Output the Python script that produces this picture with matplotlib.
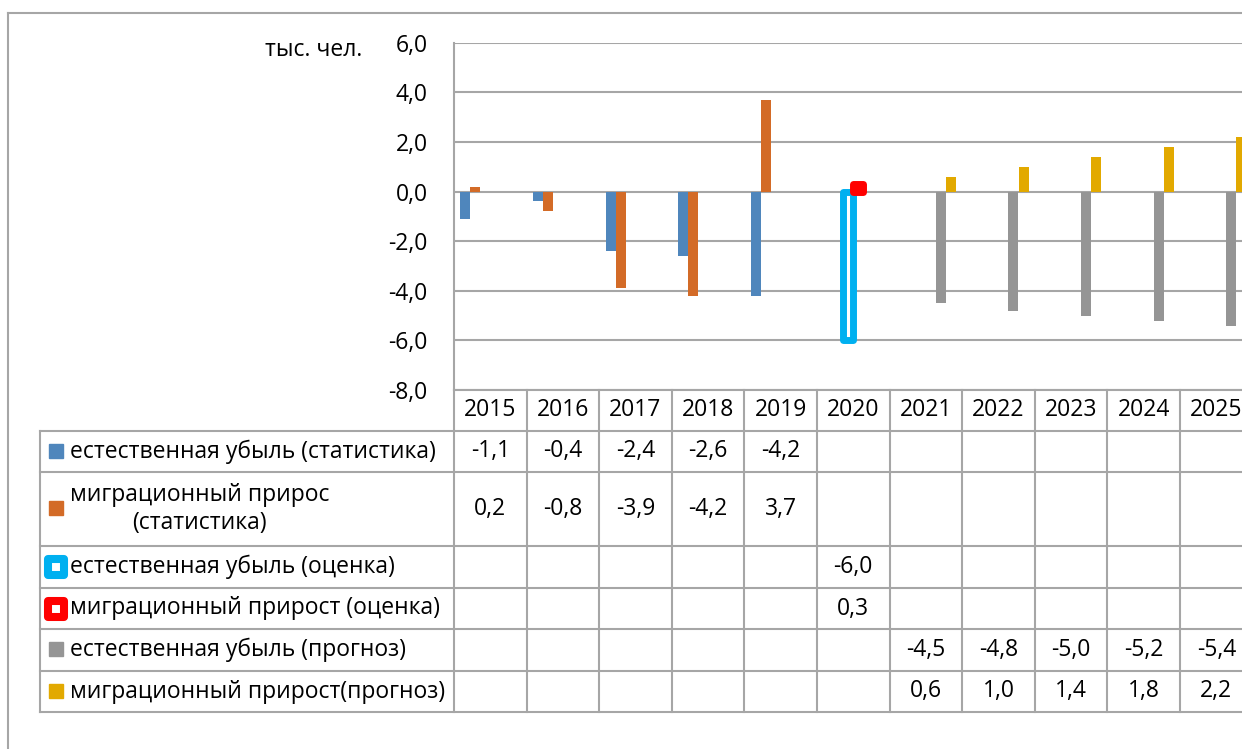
import matplotlib
matplotlib.use("Agg")
import matplotlib.pyplot as plt
from matplotlib.markers import MarkerStyle
from matplotlib.transforms import blended_transform_factory

plt.rcParams['font.family'] = ['Open Sans', 'DejaVu Sans']

years = ['2015', '2016', '2017', '2018', '2019', '2020',
         '2021', '2022', '2023', '2024', '2025']

# естественная убыль / миграционный прирост по годам
stat_loss = [-1.1, -0.4, -2.4, -2.6, -4.2]
stat_migr = [0.2, -0.8, -3.9, -4.2, 3.7]
est_loss = [-6.0]
est_migr = [0.3]
fc_loss = [-4.5, -4.8, -5.0, -5.2, -5.4]
fc_migr = [0.6, 1.0, 1.4, 1.8, 2.2]

labels = [
    'естественная убыль (статистика)',
    'миграционный прирос\n(статистика)',
    'естественная убыль (оценка)',
    'миграционный прирост (оценка)',
    'естественная убыль (прогноз)',
    'миграционный прирост(прогноз)',
]

blue = '#4F86BC'
orange = '#D36B27'
cyan = '#00B0F0'
red = '#FF0000'
grey = '#959595'
gold = '#E2A900'
line_c = '#A6A6A6'
fs = 16.5

W, H = 1242, 749
fig = plt.figure(figsize=(W / 100, H / 100), dpi=100)

# overlay in pixel units for the data table and frame
tab = fig.add_axes([0, 0, 1, 1])
tab.set_xlim(0, W)
tab.set_ylim(H, 0)
tab.axis('off')

col_w = 72.6
x0, y_top, y_bot = 454, 42.7, 390
ax = fig.add_axes([x0 / W, (H - y_bot) / H, len(years) * col_w / W, (y_bot - y_top) / H])
ax.patch.set_alpha(0)
ax.set_xlim(0, len(years))
ax.set_ylim(-8, 6)

yt = list(range(-8, 7, 2))
ax.set_yticks(yt)
ax.set_yticklabels([f'{v:.1f}'.replace('.', ',') for v in yt], fontsize=fs)
ax.tick_params(axis='y', length=0, pad=19)
ax.set_xticks([])
ax.yaxis.grid(True, color=line_c, linewidth=1.5)
ax.set_axisbelow(True)
for s in ['top', 'right']:
    ax.spines[s].set_visible(False)
ax.spines['left'].set_color(line_c)
ax.spines['left'].set_linewidth(1.5)
ax.spines['bottom'].set_color(line_c)
ax.spines['bottom'].set_linewidth(1.5)

bw = 10 / col_w


def pos(start, n, k):
    return [start + i + 0.5 + (k - 2.5) * bw for i in range(n)]


ax.bar(pos(0, len(stat_loss), 0), stat_loss, bw, color=blue, zorder=3)
ax.bar(pos(0, len(stat_migr), 1), stat_migr, bw, color=orange, zorder=3)
ax.bar(pos(5, len(est_loss), 2), est_loss, bw, facecolor='white', edgecolor=cyan,
       linewidth=5, joinstyle='round', zorder=3)
ax.bar(pos(5, len(est_migr), 3), est_migr, bw, facecolor=red, edgecolor=red,
       linewidth=5, joinstyle='round', zorder=4)
ax.bar(pos(6, len(fc_loss), 4), fc_loss, bw, color=grey, zorder=3)
ax.bar(pos(6, len(fc_migr), 5), fc_migr, bw, color=gold, zorder=3)

tab.text(362, 50, 'тыс. чел.', fontsize=fs, ha='right', va='center')

# outer frame
tab.plot([8, W], [13, 13], color=line_c, lw=1.5)
tab.plot([8, 8], [13, H], color=line_c, lw=1.5)

# data table
rows = [431, 472, 546, 588, 629, 671, 712]
for y in rows:
    tab.plot([40, W], [y, y], color=line_c, lw=1.5)
tab.plot([40, 40], [rows[0], rows[-1]], color=line_c, lw=1.5)
tab.plot([x0, x0], [y_bot, rows[-1]], color=line_c, lw=1.5)
bt = blended_transform_factory(ax.transData, tab.transData)
for i in range(1, len(years) + 1):
    tab.plot([i, i], [y_bot, rows[-1]], color=line_c, lw=1.5, transform=bt)

for i, yr in enumerate(years):
    tab.text(i + 0.5, (y_bot + rows[0]) / 2, yr, fontsize=fs, ha='center',
             va='center', transform=bt)

series = [(0, stat_loss), (0, stat_migr), (5, est_loss), (5, est_migr),
          (6, fc_loss), (6, fc_migr)]
colors = [blue, orange, cyan, red, grey, gold]
for r, ((start, vals), lab, c) in enumerate(zip(series, labels, colors)):
    yc = (rows[r] + rows[r + 1]) / 2
    for i, v in enumerate(vals):
        tab.text(start + i + 0.5, yc, f'{v:.1f}'.replace('.', ','), fontsize=fs,
                 ha='center', va='center', transform=bt)
    if r in (2, 3):
        tab.plot(56, yc, marker=MarkerStyle('s', joinstyle='round'), markersize=11,
                 markerfacecolor='white', markeredgecolor=c, markeredgewidth=5.8)
    else:
        tab.plot(56, yc - 1, marker='s', markersize=10, color=c)
    tab.text(70, yc, lab, fontsize=fs, ha='left', va='center',
             multialignment='center', linespacing=1.25)

fig.savefig('out.png', dpi=100)
